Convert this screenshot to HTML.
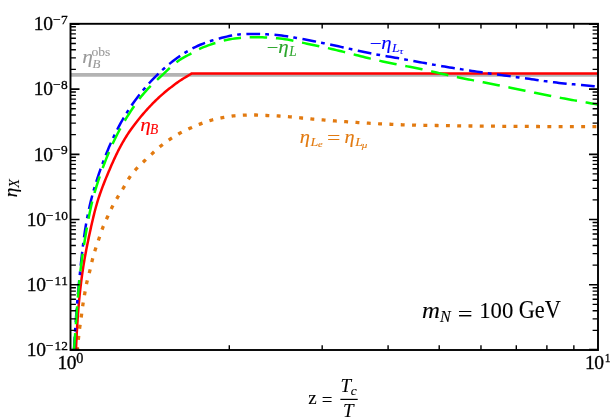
<!DOCTYPE html>
<html><head><meta charset="utf-8"><title>plot</title>
<style>
html,body{margin:0;padding:0;background:#fff;}
body{width:611px;height:418px;overflow:hidden;}
svg{display:block;font-family:"Liberation Serif",serif;will-change:transform;font-kerning:none;}
</style></head><body>
<svg width="611" height="418" viewBox="0 0 611 418">
<rect x="0" y="0" width="611" height="418" fill="#fff"/>
<defs><clipPath id="c"><rect x="70.5" y="23.8" width="527.5" height="326.2"/></clipPath></defs>
<g clip-path="url(#c)" fill="none">
<path d="M70.5,74.9H598.0" stroke="#b3b3b3" stroke-width="3.7"/>
<path d="M77.20,349.50 L77.36,348.16 L77.48,347.16 M78.30,339.85 L78.41,338.80 L78.56,337.46 L78.71,336.12 L78.72,335.96 M79.58,328.65 L79.66,328.10 L79.83,326.76 L80.02,325.43 L80.11,324.78 M81.16,317.49 L81.17,317.43 L81.36,316.10 L81.54,314.77 L81.69,313.62 M82.65,306.32 L82.78,305.42 L82.98,304.09 L83.18,302.76 L83.23,302.46 M84.45,295.20 L84.52,294.79 L84.75,293.47 L84.98,292.14 L85.12,291.35 M86.47,284.08 L86.72,282.88 L87.03,281.57 L87.34,280.26 L87.34,280.26 M89.24,273.10 L89.41,272.45 L89.74,271.14 L90.06,269.83 L90.18,269.29 M91.83,262.08 L91.86,261.96 L92.17,260.65 L92.49,259.34 L92.76,258.27 M94.78,251.15 L95.06,250.27 L95.47,248.99 L95.89,247.71 L95.99,247.41 M98.39,240.41 L98.50,240.07 L98.94,238.79 L99.36,237.51 L99.63,236.69 M102.00,229.68 L102.40,228.59 L102.88,227.33 L103.38,226.09 L103.42,226.00 M106.42,219.22 L106.66,218.70 L107.22,217.47 L107.78,216.25 L108.06,215.64 M111.20,208.92 L111.79,207.72 L112.40,206.52 L112.98,205.40 M116.61,198.94 L117.00,198.29 L117.70,197.14 L118.40,195.99 L118.67,195.58 M122.58,189.27 L122.67,189.13 L123.36,187.98 L124.03,186.81 L124.57,185.87 M128.28,179.45 L128.76,178.66 L129.49,177.53 L130.25,176.41 L130.43,176.15 M134.98,170.30 L135.22,170.03 L136.12,169.02 L137.03,168.04 L137.65,167.40 M142.98,162.24 L143.80,161.47 L144.78,160.55 L145.76,159.63 L145.84,159.55 M151.23,154.47 L151.64,154.09 L152.63,153.18 L153.62,152.26 L154.11,151.81 M159.69,146.95 L159.70,146.94 L160.74,146.09 L161.79,145.25 L162.75,144.50 M168.72,140.14 L169.40,139.68 L170.51,138.92 L171.64,138.18 L171.98,137.96 M178.29,134.10 L178.53,133.96 L179.70,133.31 L180.89,132.67 L181.74,132.22 M188.38,128.98 L189.36,128.53 L190.59,127.98 L191.82,127.44 L191.97,127.37 M198.79,124.53 L199.28,124.34 L200.53,123.85 L201.79,123.37 L202.45,123.12 M209.46,120.75 L210.73,120.38 L212.03,120.02 L213.24,119.70 M220.46,118.10 L221.22,117.95 L222.55,117.69 L223.87,117.44 L224.31,117.36 M231.60,116.16 L231.84,116.12 L233.18,115.95 L234.51,115.80 L235.49,115.70 M242.84,115.18 L243.92,115.13 L245.26,115.08 L246.61,115.04 L246.75,115.03 M254.12,114.97 L254.69,114.98 L256.03,115.00 L257.38,115.04 L258.03,115.07 M265.39,115.41 L265.45,115.41 L266.79,115.48 L268.14,115.54 L269.30,115.59 M276.67,115.90 L277.56,115.95 L278.90,116.02 L280.24,116.09 L280.57,116.11 M287.93,116.65 L288.30,116.68 L289.64,116.80 L290.98,116.91 L291.82,116.99 M299.16,117.71 L300.36,117.84 L301.70,117.99 L303.04,118.13 L303.05,118.13 M310.38,118.91 L311.07,118.98 L312.41,119.11 L313.76,119.23 L314.27,119.27 M321.62,119.85 L321.81,119.86 L323.15,119.97 L324.49,120.07 L325.52,120.15 M332.89,120.74 L333.89,120.82 L335.23,120.93 L336.57,121.03 L336.80,121.04 M344.18,121.58 L344.63,121.61 L345.97,121.71 L347.32,121.80 L348.10,121.86 M355.48,122.38 L356.72,122.46 L358.06,122.55 L359.40,122.64 M366.79,123.08 L367.47,123.12 L368.81,123.20 L370.16,123.28 L370.71,123.31 M378.10,123.71 L378.23,123.72 L379.57,123.78 L380.92,123.85 L382.02,123.90 M389.42,124.21 L390.33,124.25 L391.68,124.31 L393.02,124.37 L393.34,124.39 M400.74,124.72 L401.09,124.73 L402.44,124.79 L403.78,124.83 L404.66,124.86 M412.06,125.06 L413.20,125.08 L414.55,125.11 L415.90,125.13 L415.99,125.14 M423.39,125.27 L423.97,125.28 L425.32,125.30 L426.67,125.32 L427.31,125.33 M434.69,125.47 L434.74,125.47 L436.09,125.49 L437.44,125.52 L438.60,125.54 M445.96,125.66 L446.86,125.67 L448.21,125.69 L449.55,125.71 L449.86,125.72 M457.22,125.82 L457.63,125.83 L458.98,125.84 L460.32,125.86 L461.13,125.87 M468.49,125.96 L469.75,125.98 L471.09,125.99 L472.40,126.01 M479.76,126.08 L480.52,126.09 L481.86,126.11 L483.21,126.12 L483.67,126.12 M491.03,126.19 L491.29,126.19 L492.63,126.20 L493.98,126.22 L494.93,126.22 M502.30,126.28 L503.41,126.29 L504.75,126.30 L506.10,126.31 L506.20,126.31 M513.56,126.36 L514.18,126.37 L515.52,126.38 L516.87,126.39 L517.47,126.39 M524.83,126.44 L524.95,126.44 L526.29,126.45 L527.64,126.46 L528.74,126.46 M536.10,126.51 L537.07,126.51 L538.41,126.52 L539.76,126.53 L540.01,126.53 M547.37,126.57 L547.84,126.57 L549.18,126.58 L550.53,126.58 L551.28,126.59 M558.64,126.62 L559.95,126.62 L561.30,126.63 L562.55,126.63 M569.91,126.66 L570.73,126.66 L572.07,126.66 L573.42,126.67 L573.81,126.67 M581.18,126.69 L581.50,126.69 L582.84,126.69 L584.19,126.69 L585.08,126.69 M592.45,126.70 L593.61,126.70 L594.96,126.70 L596.31,126.70 L596.35,126.70" stroke="#e27a10" stroke-width="3.3"/>
<path d="M76.00,349.50 L76.07,347.93 L76.13,346.37 L76.20,344.80 L76.27,343.24 L76.35,341.67 L76.42,340.11 L76.50,338.54 L76.57,336.97 L76.65,335.40 L76.74,333.84 L76.82,332.27 L76.91,330.70 L77.00,329.13 L77.09,327.57 L77.18,326.00 L77.28,324.43 L77.38,322.86 L77.48,321.30 L77.59,319.73 L77.69,318.16 L77.81,316.59 L77.92,315.03 L78.04,313.46 L78.16,311.89 L78.28,310.33 L78.41,308.76 L78.53,307.19 L78.67,305.63 L78.80,304.06 L78.94,302.50 L79.09,300.93 L79.24,299.37 L79.39,297.80 L79.54,296.24 L79.70,294.67 L79.86,293.11 L80.03,291.55 L80.20,289.99 L80.38,288.43 L80.56,286.87 L80.74,285.30 L80.93,283.75 L81.12,282.19 L81.32,280.63 L81.52,279.07 L81.73,277.51 L81.94,275.96 L82.15,274.40 L82.37,272.85 L82.60,271.29 L82.83,269.74 L83.07,268.19 L83.31,266.64 L83.55,265.09 L83.80,263.54 L84.06,261.99 L84.32,260.44 L84.59,258.90 L84.87,257.35 L85.14,255.81 L85.43,254.26 L85.72,252.72 L86.01,251.18 L86.30,249.64 L86.61,248.10 L86.91,246.56 L87.22,245.02 L87.53,243.48 L87.85,241.94 L88.17,240.40 L88.49,238.87 L88.82,237.33 L89.14,235.79 L89.47,234.26 L89.81,232.72 L90.14,231.19 L90.48,229.65 L90.81,228.12 L91.15,226.58 L91.50,225.05 L91.84,223.51 L92.19,221.98 L92.55,220.45 L92.91,218.92 L93.27,217.39 L93.64,215.86 L94.02,214.34 L94.40,212.82 L94.79,211.29 L95.19,209.78 L95.60,208.26 L96.01,206.75 L96.44,205.24 L96.87,203.73 L97.32,202.23 L97.78,200.72 L98.24,199.23 L98.72,197.73 L99.21,196.24 L99.71,194.76 L100.22,193.28 L100.74,191.80 L101.27,190.32 L101.81,188.84 L102.36,187.37 L102.92,185.91 L103.48,184.44 L104.05,182.98 L104.63,181.51 L105.21,180.06 L105.80,178.60 L106.40,177.14 L107.00,175.69 L107.61,174.24 L108.22,172.79 L108.83,171.34 L109.45,169.89 L110.07,168.45 L110.69,167.00 L111.32,165.56 L111.95,164.12 L112.59,162.68 L113.24,161.24 L113.89,159.81 L114.54,158.38 L115.21,156.96 L115.88,155.54 L116.56,154.12 L117.25,152.71 L117.95,151.30 L118.66,149.90 L119.38,148.51 L120.11,147.12 L120.85,145.74 L121.60,144.36 L122.37,142.99 L123.15,141.63 L123.94,140.27 L124.74,138.93 L125.56,137.59 L126.40,136.26 L127.24,134.94 L128.10,133.62 L128.97,132.32 L129.86,131.02 L130.75,129.73 L131.66,128.45 L132.58,127.17 L133.51,125.90 L134.45,124.64 L135.41,123.39 L136.37,122.15 L137.34,120.91 L138.32,119.68 L139.32,118.46 L140.32,117.24 L141.33,116.03 L142.35,114.83 L143.38,113.64 L144.41,112.45 L145.46,111.28 L146.51,110.10 L147.57,108.94 L148.63,107.78 L149.70,106.63 L150.79,105.49 L151.88,104.36 L152.97,103.23 L154.08,102.12 L155.20,101.01 L156.32,99.92 L157.45,98.83 L158.60,97.75 L159.75,96.69 L160.91,95.64 L162.09,94.60 L163.27,93.57 L164.47,92.55 L165.67,91.54 L166.88,90.54 L168.11,89.56 L169.33,88.58 L170.57,87.61 L171.81,86.65 L173.06,85.69 L174.31,84.74 L175.57,83.81 L176.84,82.88 L178.12,81.98 L179.42,81.09 L180.73,80.22 L182.05,79.38 L183.38,78.55 L184.72,77.73 L186.06,76.91 L187.41,76.10 L188.75,75.28 L190.08,74.45 L191.40,73.60 L599.00,73.60" stroke="#ff0000" stroke-width="2.5" stroke-linejoin="miter"/>
<path d="M74.00,349.50 L74.13,346.99 L74.27,344.48 L74.41,341.97 L74.56,339.46 L74.71,336.95 L74.73,336.67 M75.05,331.58 L75.19,329.43 L75.29,327.84 M75.67,322.35 L75.70,321.91 L75.88,319.41 L76.07,316.90 L76.26,314.40 L76.45,311.89 L76.65,309.39 L76.71,308.64 M77.12,303.56 L77.26,301.87 L77.44,299.79 M77.92,294.21 L78.13,291.86 L78.36,289.36 L78.59,286.86 L78.82,284.36 L79.06,281.86 L79.22,280.27 M79.73,275.11 L79.80,274.36 L80.05,271.86 L80.11,271.31 M80.69,265.74 L80.83,264.36 L81.10,261.86 L81.37,259.36 L81.64,256.87 L81.92,254.37 L82.20,251.87 L82.21,251.83 M82.82,246.66 L83.10,244.39 L83.29,242.87 M84.03,237.31 L84.08,236.92 L84.44,234.43 L84.80,231.94 L85.18,229.46 L85.58,226.98 L85.99,224.50 L86.18,223.45 M87.10,218.33 L87.34,217.08 L87.82,214.61 L87.83,214.57 M88.98,209.08 L89.38,207.23 L89.94,204.79 L90.52,202.34 L91.12,199.90 L91.75,197.47 L92.25,195.55 M93.61,190.64 L93.74,190.20 L94.44,187.78 L94.66,187.04 M96.28,181.78 L96.66,180.58 L97.43,178.18 L98.22,175.80 L99.02,173.42 L99.84,171.04 L100.64,168.74 M102.37,163.95 L102.38,163.94 L103.25,161.58 L103.69,160.43 M105.68,155.31 L105.97,154.55 L106.91,152.22 L107.87,149.90 L108.85,147.58 L109.84,145.27 L110.86,142.97 L111.01,142.63 M113.13,137.99 L114.01,136.12 L114.74,134.61 M117.19,129.69 L117.36,129.36 L118.52,127.13 L119.70,124.91 L120.90,122.70 L122.13,120.51 L123.39,118.33 L123.80,117.63 M126.44,113.26 L127.30,111.88 L128.44,110.09 M131.49,105.52 L132.88,103.51 L134.34,101.47 L135.83,99.44 L137.34,97.43 L138.87,95.43 L139.65,94.45 M142.85,90.49 L143.62,89.57 L145.25,87.65 L145.27,87.62 M148.91,83.50 L150.26,82.01 L151.98,80.18 L153.72,78.36 L155.48,76.56 L157.26,74.79 L158.47,73.62 M162.20,70.13 L162.75,69.63 L164.63,67.96 L165.00,67.64 M169.20,64.09 L170.41,63.12 L172.38,61.56 L174.38,60.03 L176.40,58.54 L178.45,57.08 L180.21,55.86 M184.47,53.06 L184.73,52.89 L186.87,51.58 L187.67,51.11 M192.48,48.44 L193.46,47.92 L195.72,46.81 L198.00,45.76 L200.31,44.77 L202.64,43.83 L205.00,42.93 L205.06,42.91 M209.88,41.24 L212.14,40.52 L213.46,40.12 M218.74,38.61 L219.38,38.44 L221.82,37.80 L224.26,37.19 L226.71,36.60 L229.16,36.05 L231.63,35.54 L232.12,35.45 M237.16,34.63 L239.07,34.39 L240.88,34.23 M246.37,33.94 L246.59,33.93 L249.11,33.89 L251.62,33.89 L254.14,33.91 L256.65,33.94 L259.16,33.99 L260.12,34.02 M265.22,34.20 L266.69,34.27 L268.98,34.40 M274.50,34.81 L276.72,35.01 L279.21,35.28 L281.71,35.59 L284.20,35.94 L286.68,36.31 L288.22,36.56 M293.28,37.42 L294.11,37.56 L296.59,38.00 L297.00,38.08 M302.44,39.06 L304.01,39.35 L306.48,39.80 L308.95,40.26 L311.42,40.73 L313.88,41.20 L316.04,41.62 M321.07,42.63 L321.28,42.67 L323.74,43.17 L324.77,43.39 M330.18,44.53 L331.11,44.73 L333.56,45.26 L336.02,45.80 L338.47,46.34 L340.93,46.88 L343.38,47.43 L343.69,47.50 M348.70,48.61 L350.74,49.06 L352.38,49.43 M357.79,50.61 L358.10,50.68 L360.56,51.21 L363.01,51.73 L365.47,52.24 L367.93,52.75 L370.40,53.25 L371.33,53.43 M376.36,54.40 L377.80,54.67 L380.07,55.08 M385.52,56.03 L387.70,56.40 L390.17,56.82 L392.65,57.25 L395.13,57.67 L397.60,58.10 L399.15,58.37 M404.20,59.27 L405.02,59.42 L407.49,59.87 L407.91,59.95 M413.35,60.96 L414.90,61.25 L417.37,61.71 L419.84,62.17 L422.31,62.63 L424.78,63.09 L426.95,63.49 M432.00,64.41 L432.20,64.45 L434.67,64.89 L435.71,65.07 M441.16,66.02 L442.10,66.18 L444.57,66.59 L447.05,67.01 L449.53,67.41 L452.01,67.82 L454.49,68.21 L454.80,68.26 M459.86,69.06 L461.94,69.38 L463.59,69.64 M469.05,70.47 L469.39,70.52 L471.87,70.89 L474.36,71.26 L476.84,71.63 L479.33,71.99 L481.82,72.35 L482.72,72.48 M487.80,73.20 L489.28,73.41 L491.53,73.72 M497.00,74.48 L499.23,74.78 L501.72,75.12 L504.21,75.46 L506.70,75.80 L509.19,76.13 L510.70,76.33 M515.77,77.02 L516.66,77.14 L519.15,77.48 L519.51,77.53 M524.98,78.28 L526.62,78.50 L529.11,78.85 L531.60,79.20 L534.08,79.55 L536.57,79.90 L538.67,80.20 M543.74,80.91 L544.04,80.96 L546.53,81.30 L547.48,81.43 M552.95,82.15 L554.00,82.28 L556.49,82.59 L558.99,82.89 L561.48,83.17 L563.98,83.44 L566.48,83.69 L566.66,83.71 M571.75,84.18 L573.98,84.37 L575.50,84.50 M581.00,84.96 L581.50,85.01 L584.00,85.22 L586.50,85.44 L589.00,85.66 L591.51,85.90 L594.01,86.15 L594.74,86.23" stroke="#0000ff" stroke-width="2.5"/>
<path d="M74.00,349.50 L74.19,347.00 L74.38,344.51 L74.56,342.01 L74.75,339.51 L74.93,337.01 L75.10,334.51 L75.21,333.09 M75.83,324.23 L75.99,322.01 L76.17,319.51 L76.35,317.00 L76.53,314.50 L76.72,312.00 L76.90,309.50 L77.09,307.00 L77.14,306.46 M77.84,297.64 L77.89,296.99 L78.10,294.49 L78.32,291.99 L78.55,289.49 L78.78,286.99 L79.01,284.50 L79.26,282.00 L79.45,280.13 M80.40,271.34 L80.60,269.54 L80.90,267.05 L81.21,264.56 L81.53,262.07 L81.86,259.59 L82.20,257.10 L82.55,254.62 L82.67,253.77 M84.00,245.00 L84.05,244.71 L84.45,242.23 L84.85,239.75 L85.26,237.28 L85.68,234.81 L86.10,232.33 L86.52,229.86 L86.93,227.52 M88.52,218.79 L88.76,217.52 L89.24,215.05 L89.74,212.59 L90.25,210.14 L90.78,207.69 L91.33,205.24 L91.91,202.80 L92.24,201.46 M94.48,193.01 L95.15,190.70 L95.87,188.30 L96.61,185.90 L97.37,183.51 L98.14,181.12 L98.94,178.74 L99.74,176.38 M102.67,168.15 L103.13,166.91 L104.01,164.56 L104.90,162.21 L105.81,159.87 L106.73,157.54 L107.67,155.21 L108.63,152.90 L109.05,151.91 M112.56,143.92 L112.65,143.71 L113.71,141.44 L114.80,139.18 L115.90,136.93 L117.03,134.69 L118.18,132.47 L119.36,130.25 L120.40,128.33 M124.73,120.76 L125.57,119.36 L126.88,117.21 L128.21,115.08 L129.56,112.96 L130.93,110.86 L132.33,108.76 L133.75,106.68 L134.16,106.08 M139.30,99.02 L139.66,98.54 L141.21,96.56 L142.80,94.62 L144.41,92.70 L146.06,90.81 L147.75,88.96 L149.47,87.14 L150.74,85.86 M157.08,79.86 L158.54,78.52 L160.39,76.82 L162.24,75.11 L164.07,73.39 L165.90,71.64 L167.72,69.90 L169.55,68.17 L169.81,67.93 M176.44,62.25 L177.18,61.67 L179.22,60.22 L181.32,58.87 L183.48,57.61 L185.68,56.41 L187.90,55.23 L190.11,54.04 L191.40,53.33 M199.09,49.19 L201.20,48.19 L203.51,47.21 L205.84,46.30 L208.20,45.43 L210.57,44.60 L212.95,43.79 L215.34,43.01 L215.39,43.00 M223.78,40.61 L224.99,40.31 L227.44,39.77 L229.90,39.29 L232.37,38.87 L234.86,38.51 L237.35,38.19 L239.84,37.92 L240.99,37.81 M249.70,37.24 L249.86,37.24 L252.37,37.17 L254.88,37.15 L257.38,37.17 L259.89,37.24 L262.39,37.34 L264.90,37.47 L267.14,37.59 M275.92,38.17 L277.41,38.29 L279.91,38.53 L282.40,38.82 L284.88,39.17 L287.36,39.57 L289.83,40.01 L292.29,40.49 L293.39,40.72 M302.03,42.60 L302.09,42.61 L304.54,43.14 L307.00,43.66 L309.45,44.18 L311.90,44.69 L314.36,45.20 L316.81,45.71 L319.27,46.23 L319.31,46.24 M327.94,48.14 L329.06,48.39 L331.51,48.95 L333.95,49.52 L336.39,50.10 L338.83,50.68 L341.26,51.27 L343.70,51.88 L345.13,52.23 M353.69,54.40 L355.85,54.96 L358.28,55.58 L360.71,56.20 L363.14,56.81 L365.57,57.42 L368.01,58.02 L370.45,58.61 L370.78,58.69 M379.36,60.68 L380.22,60.87 L382.67,61.41 L385.12,61.94 L387.57,62.46 L390.03,62.97 L392.48,63.48 L394.94,63.97 L396.61,64.30 M405.26,65.98 L407.25,66.36 L409.71,66.83 L412.18,67.30 L414.64,67.79 L417.10,68.27 L419.55,68.77 L422.01,69.28 L422.54,69.39 M431.15,71.28 L431.80,71.43 L434.25,71.99 L436.69,72.55 L439.14,73.11 L441.58,73.67 L444.03,74.22 L446.47,74.77 L448.34,75.18 M456.91,77.03 L458.73,77.41 L461.19,77.92 L463.64,78.42 L466.10,78.91 L468.56,79.41 L471.02,79.89 L473.48,80.38 L474.05,80.49 M482.64,82.15 L483.33,82.28 L485.79,82.76 L488.25,83.23 L490.71,83.71 L493.17,84.19 L495.63,84.67 L498.09,85.16 L499.80,85.50 M508.37,87.25 L510.38,87.66 L512.83,88.17 L515.29,88.68 L517.74,89.20 L520.20,89.71 L522.65,90.23 L525.10,90.75 L525.49,90.83 M534.05,92.61 L534.92,92.79 L537.38,93.30 L539.84,93.80 L542.29,94.30 L544.75,94.79 L547.21,95.28 L549.67,95.76 L551.19,96.06 M559.78,97.70 L561.99,98.11 L564.45,98.57 L566.92,99.02 L569.39,99.47 L571.85,99.92 L574.32,100.36 L576.79,100.80 L576.98,100.83 M585.58,102.36 L586.67,102.56 L589.13,103.00 L591.60,103.44 L594.07,103.89 L596.53,104.34 L599.00,104.80" stroke="#00ff00" stroke-width="2.5"/>
</g>
<path d="M70.5,69.40h5.4 M598.0,69.40h-5.4 M70.5,57.91h5.4 M598.0,57.91h-5.4 M70.5,49.76h5.4 M598.0,49.76h-5.4 M70.5,43.44h5.4 M598.0,43.44h-5.4 M70.5,38.27h5.4 M598.0,38.27h-5.4 M70.5,33.91h5.4 M598.0,33.91h-5.4 M70.5,30.12h5.4 M598.0,30.12h-5.4 M70.5,26.79h5.4 M598.0,26.79h-5.4 M70.5,134.64h5.4 M598.0,134.64h-5.4 M70.5,123.15h5.4 M598.0,123.15h-5.4 M70.5,115.00h5.4 M598.0,115.00h-5.4 M70.5,108.68h5.4 M598.0,108.68h-5.4 M70.5,103.51h5.4 M598.0,103.51h-5.4 M70.5,99.15h5.4 M598.0,99.15h-5.4 M70.5,95.36h5.4 M598.0,95.36h-5.4 M70.5,92.03h5.4 M598.0,92.03h-5.4 M70.5,199.88h5.4 M598.0,199.88h-5.4 M70.5,188.39h5.4 M598.0,188.39h-5.4 M70.5,180.24h5.4 M598.0,180.24h-5.4 M70.5,173.92h5.4 M598.0,173.92h-5.4 M70.5,168.75h5.4 M598.0,168.75h-5.4 M70.5,164.39h5.4 M598.0,164.39h-5.4 M70.5,160.60h5.4 M598.0,160.60h-5.4 M70.5,157.27h5.4 M598.0,157.27h-5.4 M70.5,265.12h5.4 M598.0,265.12h-5.4 M70.5,253.63h5.4 M598.0,253.63h-5.4 M70.5,245.48h5.4 M598.0,245.48h-5.4 M70.5,239.16h5.4 M598.0,239.16h-5.4 M70.5,233.99h5.4 M598.0,233.99h-5.4 M70.5,229.63h5.4 M598.0,229.63h-5.4 M70.5,225.84h5.4 M598.0,225.84h-5.4 M70.5,222.51h5.4 M598.0,222.51h-5.4 M70.5,330.36h5.4 M598.0,330.36h-5.4 M70.5,318.87h5.4 M598.0,318.87h-5.4 M70.5,310.72h5.4 M598.0,310.72h-5.4 M70.5,304.40h5.4 M598.0,304.40h-5.4 M70.5,299.23h5.4 M598.0,299.23h-5.4 M70.5,294.87h5.4 M598.0,294.87h-5.4 M70.5,291.08h5.4 M598.0,291.08h-5.4 M70.5,287.75h5.4 M598.0,287.75h-5.4 M229.29,23.8v4.8 M229.29,350.0v-4.8 M322.18,23.8v4.8 M322.18,350.0v-4.8 M388.09,23.8v4.8 M388.09,350.0v-4.8 M439.21,23.8v4.8 M439.21,350.0v-4.8 M480.97,23.8v4.8 M480.97,350.0v-4.8 M516.29,23.8v4.8 M516.29,350.0v-4.8 M546.88,23.8v4.8 M546.88,350.0v-4.8 M573.86,23.8v4.8 M573.86,350.0v-4.8" stroke="#000" stroke-width="1.4" fill="none"/>
<path d="M70.5,89.04h9.0 M598.0,89.04h-9.0 M70.5,154.28h9.0 M598.0,154.28h-9.0 M70.5,219.52h9.0 M598.0,219.52h-9.0 M70.5,284.76h9.0 M598.0,284.76h-9.0 M70.5,24.1h9.0 M598.0,24.1h-9.0 M70.5,349.7h9.0 M598.0,349.7h-9.0" stroke="#000" stroke-width="1.7" fill="none"/>
<rect x="70.5" y="23.8" width="527.5" height="326.2" fill="none" stroke="#000" stroke-width="1.9"/>
<g fill="#000" stroke="#000" stroke-width="0.3">
<text y="30.10" font-size="19.5"><tspan x="33.8" letter-spacing="-0.4">10</tspan><tspan font-size="13.4" dy="-6.2" x="53.1">−</tspan><tspan font-size="13.4" x="61.1">7</tspan></text>
<text y="95.34" font-size="19.5"><tspan x="33.8" letter-spacing="-0.4">10</tspan><tspan font-size="13.4" dy="-6.2" x="53.1">−</tspan><tspan font-size="13.4" x="61.1">8</tspan></text>
<text y="160.58" font-size="19.5"><tspan x="33.8" letter-spacing="-0.4">10</tspan><tspan font-size="13.4" dy="-6.2" x="53.1">−</tspan><tspan font-size="13.4" x="61.1">9</tspan></text>
<text y="225.82" font-size="19.5"><tspan x="26.8" letter-spacing="-0.4">10</tspan><tspan font-size="13.4" dy="-6.2" x="45.7">−</tspan><tspan font-size="13.4" x="54.5">10</tspan></text>
<text y="291.06" font-size="19.5"><tspan x="26.8" letter-spacing="-0.4">10</tspan><tspan font-size="13.4" dy="-6.2" x="45.7">−</tspan><tspan font-size="13.4" x="54.5">11</tspan></text>
<text y="356.30" font-size="19.5"><tspan x="26.8" letter-spacing="-0.4">10</tspan><tspan font-size="13.4" dy="-6.2" x="45.7">−</tspan><tspan font-size="13.4" x="54.5">12</tspan></text>
<text x="57.5" y="369.3" font-size="19.5" letter-spacing="-0.4">10</text>
<text x="76.2" y="362.9" font-size="14.2">0</text>
<text x="585.1" y="369.3" font-size="19.5" letter-spacing="-0.55">10</text>
<text transform="translate(604.7,362.0) scale(0.85,1)" font-size="13.5">1</text>
</g>
<g fill="#000" stroke="#000" stroke-width="0.1">
<text transform="translate(16.7,197.2) rotate(-90)" font-size="19" font-style="italic">η<tspan font-size="14.2" dy="2.6" dx="0.1">X</tspan></text>
<text x="308.2" y="404.4" font-size="19">z</text>
<text x="321.8" y="405.5" font-size="19">=</text>
<text x="340.4" y="391.8" font-size="19" font-style="italic">T</text>
<text x="350.7" y="394.9" font-size="13.4" font-style="italic">c</text>
<rect x="340.4" y="398.8" width="17.3" height="1.2" stroke="none"/>
<text x="343.1" y="416.8" font-size="19" font-style="italic">T</text>
<text transform="translate(422.10,318.00) scale(1.115,1)" font-size="22.28" font-style="italic">m</text>
<text transform="translate(440.12,322.00) scale(0.949,1)" font-size="16.95" font-style="italic">N</text>
<text transform="translate(457.69,320.59) scale(1.237,1)" font-size="21.20">=</text>
<text transform="translate(479.20,318.07) scale(0.958,1)" font-size="23.71">100</text>
<text transform="translate(518.68,317.93) scale(0.922,1)" font-size="24.22">GeV</text>
</g>
<g font-style="italic" stroke-width="0.1">
<text transform="translate(82.23,62.88) scale(1.140,1)" font-size="18.84" font-style="italic" fill="#999" stroke="#999">η</text>
<text transform="translate(92.58,67.96) scale(0.990,1)" font-size="13.08" font-style="italic" fill="#999" stroke="#999">B</text>
<text transform="translate(91.48,55.52) scale(1.035,1)" font-size="13.15" fill="#999" stroke="#999" font-style="normal">obs</text>
<text transform="translate(140.14,130.91) scale(1.136,1)" font-size="18.70" font-style="italic" fill="#ff0000" stroke="#ff0000">η</text>
<text transform="translate(149.98,133.86) scale(0.995,1)" font-size="13.53" font-style="italic" fill="#ff0000" stroke="#ff0000">B</text>
<text transform="translate(266.67,53.92) scale(1.058,1)" font-size="19.5" font-style="normal" fill="#2aa52a" stroke="#2aa52a">−</text>
<text transform="translate(278.25,52.61) scale(1.123,1)" font-size="18.70" font-style="italic" fill="#2aa52a" stroke="#2aa52a">η</text>
<text transform="translate(289.16,55.70) scale(0.943,1)" font-size="14.05" font-style="italic" fill="#2aa52a" stroke="#2aa52a">L</text>
<text transform="translate(369.74,50.47) scale(1.091,1)" font-size="19.5" font-style="normal" fill="#0000ff" stroke="#0000ff">−</text>
<text transform="translate(381.16,48.67) scale(1.128,1)" font-size="18.41" font-style="italic" fill="#0000ff" stroke="#0000ff">η</text>
<text transform="translate(392.06,51.90) scale(1.001,1)" font-size="13.44" font-style="italic" fill="#0000ff" stroke="#0000ff">L</text>
<text transform="translate(399.58,53.52) scale(1.152,1)" font-size="8.53" font-style="italic" fill="#0000ff" stroke="#0000ff">τ</text>
<text transform="translate(299.67,142.54) scale(1.107,1)" font-size="18.55" font-style="italic" fill="#e27a10" stroke="#e27a10">η</text>
<text transform="translate(310.56,145.90) scale(1.068,1)" font-size="13.13" font-style="italic" fill="#e27a10" stroke="#e27a10">L</text>
<text transform="translate(317.88,147.01) scale(1.202,1)" font-size="8.73" font-style="italic" fill="#e27a10" stroke="#e27a10">e</text>
<text transform="translate(327.02,144.23) scale(1.313,1)" font-size="18.00" fill="#e27a10" stroke="#e27a10" font-style="normal">=</text>
<text transform="translate(344.48,142.54) scale(1.094,1)" font-size="18.55" font-style="italic" fill="#e27a10" stroke="#e27a10">η</text>
<text transform="translate(355.36,145.90) scale(1.053,1)" font-size="13.13" font-style="italic" fill="#e27a10" stroke="#e27a10">L</text>
<text transform="translate(361.81,147.66) scale(1.221,1)" font-size="9.07" font-style="italic" fill="#e27a10" stroke="#e27a10">μ</text>
</g>
</svg>
</body></html>
